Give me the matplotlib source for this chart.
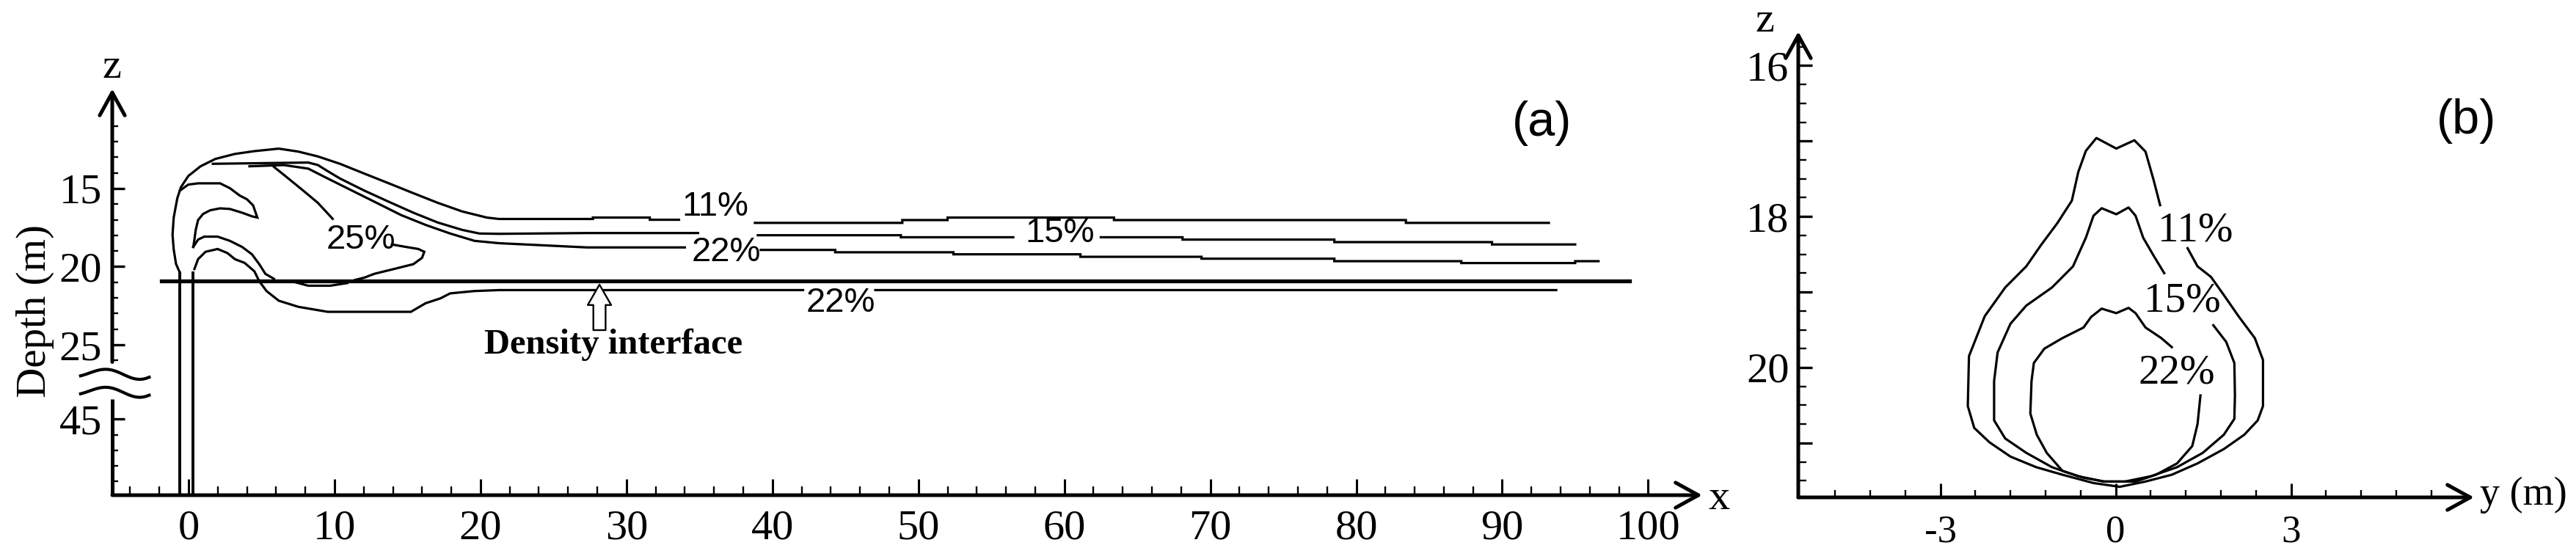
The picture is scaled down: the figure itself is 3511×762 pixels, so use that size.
import numpy as np
import matplotlib
matplotlib.use('Agg')
import matplotlib.pyplot as plt

nan = np.nan
SERIF = ['Liberation Serif', 'DejaVu Serif']
SANS = ['Liberation Sans', 'DejaVu Sans']

# ---------------- Panel (a) data : x (m) vs depth (m) ----------------
# depth axis is broken between 25 and 45 m; 45 m is drawn at position 29.75
a_xticks = [0, 10, 20, 30, 40, 50, 60, 70, 80, 90, 100]
a_ytick_pos = [15, 20, 25, 29.75]
a_ytick_labels = ['15', '20', '25', '45']
a_interface_depth = 20.93
a_interface_x = [-1.86, 98.7]
a_pipe_x = [-0.60, 0.29]
a_pipe_top = 20.38

a_c11_x = [-0.60, -0.86, -1.02, -1.10, -1.02, -0.77, -0.52, -0.02, 0.82, 1.83, 3.17, 4.51, 6.18, 7.52,
           8.86, 10.37, 12.05, 13.72, 15.40, 17.08, 18.75, 20.43, 21.27, 27.7, 27.7, 31.6, 31.6, 33.6, nan,
           38.8, 48.9, 48.9, 52.0, 52.0, 63.4, 63.4, 83.4, 83.4, 93.2]
a_c11_d = [20.38, 19.83, 18.90, 17.96, 16.86, 15.61, 14.91, 14.20, 13.58, 13.11, 12.79, 12.61, 12.45, 12.64,
           12.95, 13.42, 14.05, 14.67, 15.30, 15.92, 16.47, 16.86, 16.95, 16.95, 16.86, 16.86, 17.0, 17.0, nan,
           17.2, 17.2, 17.02, 17.02, 16.86, 16.86, 17.02, 17.02, 17.2, 17.2]

a_c15_x = [1.66, 8.2, 8.86, 9.53, 10.37, 12.05, 13.72, 15.40, 17.08, 18.75, 19.92, 21.27, 27.3, 34.9, nan,
           39.0, 48.8, 48.8, 56.5, nan, 62.5, 68.1, 68.1, 78.5, 78.5, 89.3, 89.3, 95.0]
a_c15_d = [13.42, 13.34, 13.50, 13.89, 14.36, 15.14, 15.85, 16.55, 17.18, 17.65, 17.88, 17.9, 17.85, 17.85, nan,
           17.99, 17.99, 18.12, 18.12, nan, 18.12, 18.12, 18.27, 18.27, 18.43, 18.43, 18.58, 18.58]

a_c22u_x = [4.17, 6.52, 8.2, 9.53, 11.21, 12.89, 14.56, 16.24, 17.92, 19.59, 21.27, 27.3, 34.0, nan,
            39.2, 44.3, 44.3, 52.4, 52.4, 61.1, 61.1, 69.4, 69.4, 78.5, 78.5, 87.2, 87.2, 95.0, 95.0, 96.6]
a_c22u_d = [13.58, 13.5, 13.73, 14.36, 15.14, 15.92, 16.7, 17.33, 17.88, 18.35, 18.5, 18.77, 18.77, nan,
            18.93, 18.93, 19.08, 19.08, 19.21, 19.21, 19.37, 19.37, 19.49, 19.49, 19.65, 19.65, 19.77, 19.77, 19.65, 19.65]

a_c25_x = [5.85, 6.52, 7.86, 8.86, 9.87, nan, 13.93, 14.9, 15.74, 16.15, 15.99, 15.4, 14.07, 12.72, 12.05, 11.4]
a_c25_d = [13.62, 14.12, 15.14, 15.92, 16.94, nan, 18.58, 18.74, 18.87, 19.05, 19.44, 19.84, 20.15, 20.46, 20.7, 20.85]
a_c25b_x = [7.36, 8.2, 9.7, 10.87]
a_c25b_d = [21.01, 21.22, 21.22, 21.05]

a_h1_x = [-0.6, -0.02, 0.65, 2.16, 2.83, 3.5, 4.0, 4.42, 4.71, 4.34, 3.67, 2.83, 2.16, 1.49, 0.99, 0.65, 0.49, 0.4, 0.32]
a_h1_d = [15.14, 14.75, 14.67, 14.67, 14.98, 15.45, 15.69, 16.08, 16.86, 16.78, 16.55, 16.31, 16.27, 16.39, 16.63,
          17.02, 17.64, 18.27, 18.74]

a_h2_x = [0.32, 0.65, 1.07, 1.99, 2.83, 3.67, 4.34, 4.84, 5.26, 5.85]
a_h2_d = [18.74, 18.27, 18.08, 18.08, 18.35, 18.74, 19.21, 19.84, 20.46, 20.78]

a_c22l_x = [0.4, 0.65, 1.16, 1.99, 2.66, 3.17, 3.84, 4.51, 4.84, 5.34, 6.18, 7.52, 9.53, 15.23, 16.24, 17.25,
            17.92, 19.59, 21.27, 42.1, nan, 47.05, 93.7]
a_c22l_d = [20.15, 19.52, 19.05, 18.87, 19.13, 19.52, 19.76, 20.3, 20.93, 21.56, 22.18, 22.57, 22.89, 22.89,
            22.34, 22.03, 21.71, 21.56, 21.5, 21.5, nan, 21.5, 21.5]

a_labels = ['11%', '15%', '22%', '22%', '25%']
a_label_x = [36.1, 59.7, 36.85, 44.7, 11.8]
a_label_d = [16.16, 17.88, 19.1, 22.34, 18.3]

# ---------------- Panel (b) data : y (m) vs z (m) ----------------
b_xticks = [-3, 0, 3]
b_xtick_labels = ['-3', '0', '3']
b_yticks = [16, 17, 18, 19, 20, 21]
b_ytick_labels = ['16', '', '18', '', '20', '']

b11_y = [1.23, 1.40, 1.63, 1.85, 2.11, 2.38, 2.52, 2.52, 2.43, 2.20, 1.85, 1.40, 0.96, 0.51, 0.07, -0.38, -0.91,
         -1.36, -1.80, -2.16, -2.42, -2.53, -2.51, -2.24, -1.89, -1.53, -1.27, -1.00, -0.75, -0.64, -0.51, -0.33,
         0.01, 0.32, 0.51, 0.65, 0.76]
b11_z = [18.42, 18.66, 18.80, 19.04, 19.33, 19.61, 19.90, 20.51, 20.70, 20.89, 21.08, 21.27, 21.42, 21.51, 21.58,
         21.53, 21.42, 21.32, 21.18, 20.99, 20.80, 20.51, 19.85, 19.32, 18.94, 18.66, 18.37, 18.09, 17.79, 17.41,
         17.13, 16.96, 17.10, 16.99, 17.14, 17.52, 17.85]

b15_y = [1.67, 1.89, 2.03, 2.04, 2.03, 1.85, 1.49, 1.05, 0.60, 0.16, -0.20, -0.64, -1.09, -1.53, -1.89, -2.08,
         -2.08, -2.02, -1.80, -1.53, -1.09, -0.73, -0.51, -0.38, -0.24, 0.01, 0.22, 0.34, 0.47, 0.65, 0.83]
b15_z = [19.44, 19.66, 19.94, 20.37, 20.68, 20.89, 21.13, 21.32, 21.44, 21.51, 21.51, 21.44, 21.32, 21.13, 20.94,
         20.70, 20.18, 19.80, 19.42, 19.18, 18.94, 18.66, 18.28, 17.99, 17.89, 17.97, 17.88, 17.99, 18.28, 18.52, 18.75]

b22_y = [1.45, 1.40, 1.31, 1.05, 0.69, 0.34, -0.20, -0.55, -0.91, -1.18, -1.35, -1.46, -1.44, -1.40, -1.22, -0.91,
         -0.55, -0.42, -0.24, 0.01, 0.22, 0.34, 0.51, 0.78, 0.96]
b22_z = [20.37, 20.75, 21.04, 21.27, 21.42, 21.51, 21.51, 21.46, 21.37, 21.13, 20.89, 20.61, 20.18, 19.94, 19.75,
         19.61, 19.47, 19.33, 19.22, 19.28, 19.21, 19.28, 19.47, 19.61, 19.73]

b_labels = ['11%', '15%', '22%']
b_label_y = [1.36, 1.14, 1.05]
b_label_z = [18.19, 19.12, 20.07]

# ---------------- figure ----------------
W, H = 3512, 762
fig = plt.figure(figsize=(W / 100, H / 100), dpi=100)

def fx(px):
    return px / W

def fy(py):
    return 1 - py / H

AX_LW = 3.6
LINE_LW = 2.3
ARROW = dict(arrowstyle='->,head_length=0.4,head_width=0.22', lw=AX_LW, color='black',
             shrinkA=0, shrinkB=0, mutation_scale=56)

# ---- panel (a)
axa = fig.add_axes([fx(153), fy(675), fx(2320 - 153), (675 - 121) / H])
a_xmin, a_xmax = -5.23, 103.7
a_dbot, a_dtop = 34.62, 8.62
axa.set_xlim(a_xmin, a_xmax)
axa.set_ylim(a_dbot, a_dtop)
for s in axa.spines.values():
    s.set_visible(False)
axa.patch.set_alpha(0)

axa.set_xticks(a_xticks)
axa.set_xticks(list(range(-4, 100, 2)), minor=True)
axa.set_yticks(a_ytick_pos)
axa.set_yticklabels(a_ytick_labels)
axa.set_yticks([11, 12, 13, 14, 16, 17, 18, 19, 21, 22, 23, 24, 26, 30.75, 31.75, 32.75, 33.75], minor=True)
axa.tick_params(axis='x', which='major', direction='in', length=16, width=2.2, pad=14, labelsize=42)
axa.tick_params(axis='x', which='minor', direction='in', length=8.5, width=1.7)
axa.tick_params(axis='y', which='major', direction='in', length=12, width=2.4, pad=10, labelsize=42)
axa.tick_params(axis='y', which='minor', direction='in', length=6, width=1.7)
for lab in axa.get_xticklabels() + axa.get_yticklabels():
    lab.set_family(SERIF)

# axes lines with arrows (y axis broken)
axa.annotate('', xy=(a_xmax, a_dbot), xytext=(a_xmin, a_dbot), arrowprops=ARROW, annotation_clip=False)
axa.annotate('', xy=(a_xmin, a_dtop), xytext=(a_xmin, 26.1), arrowprops=ARROW, annotation_clip=False)
axa.plot([a_xmin, a_xmin], [a_dbot, 28.47], color='black', lw=AX_LW, clip_on=False, solid_capstyle='butt')

# break symbol (two waves)
tt = np.linspace(0, 1, 60)
for off in (0.0, 1.15):
    wx = -7.4 + 4.7 * tt
    wy = 26.85 + off - 0.38 * np.sin(2 * np.pi * (tt - 0.1)) * (0.6 + 0.4 * tt)
    axa.plot(wx, wy, color='black', lw=3.0, clip_on=False)

# pipe
for px in a_pipe_x:
    axa.plot([px, px], [a_dbot, a_pipe_top], color='black', lw=2.8, clip_on=False)

# interface
axa.plot(a_interface_x, [a_interface_depth] * 2, color='black', lw=3.8)

# contours
for xs, ds in [(a_c11_x, a_c11_d), (a_c15_x, a_c15_d), (a_c22u_x, a_c22u_d), (a_c25_x, a_c25_d),
               (a_c25b_x, a_c25b_d), (a_h1_x, a_h1_d), (a_h2_x, a_h2_d), (a_c22l_x, a_c22l_d)]:
    axa.plot(xs, ds, color='black', lw=LINE_LW, solid_joinstyle='miter')

for t, x, d in zip(a_labels, a_label_x, a_label_d):
    axa.text(x, d, t, ha='center', va='center', fontsize=34, family=SANS)

# density interface arrow + text
axa.annotate('', xy=(28.15, 21.15), xytext=(28.15, 24.06),
             arrowprops=dict(arrowstyle='simple,head_length=1.0,head_width=1.15,tail_width=0.6',
                             fc='white', ec='black', lw=1.7, shrinkA=0, shrinkB=0, mutation_scale=20))
axa.text(20.26, 25.0, 'Density interface', ha='left', va='center', fontsize=35,
         fontweight='bold', family=SERIF)

# ---- panel (b)
axb = fig.add_axes([fx(2451), fy(678), fx(3372 - 2451), (678 - 43) / H])
b_xmin, b_xmax = -5.43, 6.13
b_zbot, b_ztop = 21.72, 15.55
axb.set_xlim(b_xmin, b_xmax)
axb.set_ylim(b_zbot, b_ztop)
for s in axb.spines.values():
    s.set_visible(False)
axb.patch.set_alpha(0)

axb.set_xticks(b_xticks)
axb.set_xticklabels(b_xtick_labels)
axb.set_xticks([-4.8, -4.2, -3.6, -2.4, -1.8, -1.2, -0.6, 0.6, 1.2, 1.8, 2.4, 3.6, 4.2, 4.8, 5.4], minor=True)
axb.set_yticks(b_yticks)
axb.set_yticklabels(b_ytick_labels)
axb.set_yticks([v for v in np.arange(15.75, 21.6, 0.25) if abs(v - round(v)) > 0.01], minor=True)
axb.tick_params(axis='x', which='major', direction='in', length=14, width=2.2, pad=17, labelsize=38)
axb.tick_params(axis='x', which='minor', direction='in', length=7, width=1.7)
axb.tick_params(axis='y', which='major', direction='in', length=13.5, width=2.4, pad=9, labelsize=42)
axb.tick_params(axis='y', which='minor', direction='in', length=8, width=1.7)
for lab in axb.get_xticklabels() + axb.get_yticklabels():
    lab.set_family(SERIF)

axb.annotate('', xy=(b_xmax, b_zbot), xytext=(b_xmin, b_zbot), arrowprops=ARROW, annotation_clip=False)
axb.annotate('', xy=(b_xmin, b_ztop), xytext=(b_xmin, b_zbot), arrowprops=ARROW, annotation_clip=False)

for ys, zs in [(b11_y, b11_z), (b15_y, b15_z), (b22_y, b22_z)]:
    axb.plot(ys, zs, color='black', lw=LINE_LW)
for t, y, z in zip(b_labels, b_label_y, b_label_z):
    axb.text(y, z, t, ha='center', va='center', fontsize=41, family=SERIF)

# ---- axis names and panel tags
fig.text(fx(152), fy(92), 'z', ha='center', va='center', fontsize=42, family=SERIF)
fig.text(fx(2343), fy(680), 'x', ha='center', va='center', fontsize=42, family=SERIF)
fig.text(fx(48), fy(424), 'Depth (m)', ha='center', va='center', rotation=90, fontsize=41, family=SERIF)
fig.text(fx(2102), fy(168), '(a)', ha='center', va='center', fontsize=48, family=SANS)
fig.text(fx(2405), fy(29), 'z', ha='center', va='center', fontsize=42, family=SERIF)
fig.text(fx(3439), fy(675), 'y (m)', ha='center', va='center', fontsize=39, family=SERIF)
fig.text(fx(3362), fy(165), '(b)', ha='center', va='center', fontsize=48, family=SANS)

fig.savefig('out.png', dpi=100, facecolor='white')
